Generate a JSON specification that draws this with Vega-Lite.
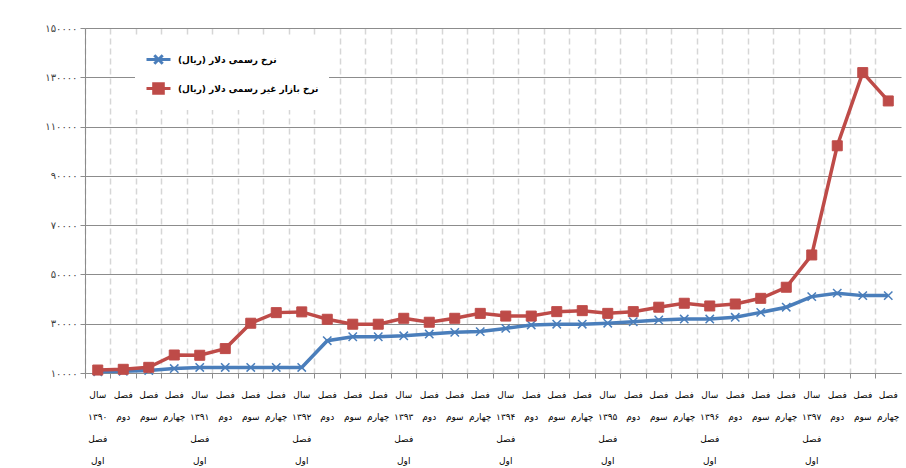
{
  "$schema": "https://vega.github.io/schema/vega-lite/v6.json",
  "width": 816,
  "height": 345,
  "autosize": {"type": "none"},
  "padding": {"left": 85, "top": 28, "right": 5, "bottom": 95},
  "background": "white",
  "config": {"view": {"stroke": null}, "font": "DejaVu Sans"},
  "datasets": {
    "rates": [
      {"period": "1390-1", "series": "official", "value": 10500},
      {"period": "1390-2", "series": "official", "value": 10700},
      {"period": "1390-3", "series": "official", "value": 11000},
      {"period": "1390-4", "series": "official", "value": 11800},
      {"period": "1391-1", "series": "official", "value": 12260},
      {"period": "1391-2", "series": "official", "value": 12260},
      {"period": "1391-3", "series": "official", "value": 12260},
      {"period": "1391-4", "series": "official", "value": 12260},
      {"period": "1392-1", "series": "official", "value": 12260},
      {"period": "1392-2", "series": "official", "value": 23100},
      {"period": "1392-3", "series": "official", "value": 24700},
      {"period": "1392-4", "series": "official", "value": 24700},
      {"period": "1393-1", "series": "official", "value": 25100},
      {"period": "1393-2", "series": "official", "value": 25800},
      {"period": "1393-3", "series": "official", "value": 26500},
      {"period": "1393-4", "series": "official", "value": 26800},
      {"period": "1394-1", "series": "official", "value": 28100},
      {"period": "1394-2", "series": "official", "value": 29500},
      {"period": "1394-3", "series": "official", "value": 29800},
      {"period": "1394-4", "series": "official", "value": 29800},
      {"period": "1395-1", "series": "official", "value": 30200},
      {"period": "1395-2", "series": "official", "value": 30800},
      {"period": "1395-3", "series": "official", "value": 31500},
      {"period": "1395-4", "series": "official", "value": 31900},
      {"period": "1396-1", "series": "official", "value": 31900},
      {"period": "1396-2", "series": "official", "value": 32600},
      {"period": "1396-3", "series": "official", "value": 34600},
      {"period": "1396-4", "series": "official", "value": 36700},
      {"period": "1397-1", "series": "official", "value": 41000},
      {"period": "1397-2", "series": "official", "value": 42400},
      {"period": "1397-3", "series": "official", "value": 41400},
      {"period": "1397-4", "series": "official", "value": 41400},
      {"period": "1390-1", "series": "market", "value": 11200},
      {"period": "1390-2", "series": "market", "value": 11500},
      {"period": "1390-3", "series": "market", "value": 12300},
      {"period": "1390-4", "series": "market", "value": 17300},
      {"period": "1391-1", "series": "market", "value": 17200},
      {"period": "1391-2", "series": "market", "value": 19900},
      {"period": "1391-3", "series": "market", "value": 30200},
      {"period": "1391-4", "series": "market", "value": 34500},
      {"period": "1392-1", "series": "market", "value": 34800},
      {"period": "1392-2", "series": "market", "value": 31800},
      {"period": "1392-3", "series": "market", "value": 29800},
      {"period": "1392-4", "series": "market", "value": 29800},
      {"period": "1393-1", "series": "market", "value": 32200},
      {"period": "1393-2", "series": "market", "value": 30600},
      {"period": "1393-3", "series": "market", "value": 32200},
      {"period": "1393-4", "series": "market", "value": 34200},
      {"period": "1394-1", "series": "market", "value": 33100},
      {"period": "1394-2", "series": "market", "value": 33100},
      {"period": "1394-3", "series": "market", "value": 34900},
      {"period": "1394-4", "series": "market", "value": 35300},
      {"period": "1395-1", "series": "market", "value": 34200},
      {"period": "1395-2", "series": "market", "value": 34900},
      {"period": "1395-3", "series": "market", "value": 36700},
      {"period": "1395-4", "series": "market", "value": 38300},
      {"period": "1396-1", "series": "market", "value": 37200},
      {"period": "1396-2", "series": "market", "value": 38000},
      {"period": "1396-3", "series": "market", "value": 40300},
      {"period": "1396-4", "series": "market", "value": 44800},
      {"period": "1397-1", "series": "market", "value": 57900},
      {"period": "1397-2", "series": "market", "value": 102200},
      {"period": "1397-3", "series": "market", "value": 131900},
      {"period": "1397-4", "series": "market", "value": 120400}
    ]
  },
  "data": {"name": "rates"},
  "encoding": {
    "x": {
      "field": "period",
      "type": "ordinal",
      "sort": null,
      "scale": {"type": "band", "paddingInner": 0, "paddingOuter": 0},
      "axis": {
        "title": null,
        "labelAngle": 0,
        "bandPosition": 0,
        "grid": true,
        "gridColor": "#d6d6d6",
        "gridDash": [6, 4],
        "gridWidth": 1.5,
        "domainColor": "#8c8c8c",
        "tickColor": "#8c8c8c",
        "tickSize": 5,
        "labelFont": "DejaVu Sans",
        "labelFontSize": 9,
        "labelColor": "black",
        "labelPadding": 12,
        "labelLineHeight": 22,
        "labelOverlap": false,
        "labelBound": false,
        "labelExpr": "substring(datum.value,5,6) == '1' ? ['سال', '۱۳۹' + ['۰','۱','۲','۳','۴','۵','۶','۷'][toNumber(substring(datum.value,3,4))], 'فصل', 'اول'] : ['فصل', ['','اول','دوم','سوم','چهارم'][toNumber(substring(datum.value,5,6))]]"
      }
    },
    "y": {
      "field": "value",
      "type": "quantitative",
      "scale": {"domain": [10000, 150000], "nice": false, "zero": false},
      "axis": {
        "title": null,
        "values": [10000, 30000, 50000, 70000, 90000, 110000, 130000, 150000],
        "grid": true,
        "gridColor": "#8c8c8c",
        "gridWidth": 1,
        "domainColor": "#8c8c8c",
        "tickColor": "#8c8c8c",
        "tickSize": 5,
        "labelFont": "DejaVu Sans",
        "labelFontSize": 10,
        "labelColor": "#404040",
        "labelPadding": 3,
        "labelExpr": "datum.value == 10000 ? '۱۰۰۰۰' : datum.value == 30000 ? '۳۰۰۰۰' : datum.value == 50000 ? '۵۰۰۰۰' : datum.value == 70000 ? '۷۰۰۰۰' : datum.value == 90000 ? '۹۰۰۰۰' : datum.value == 110000 ? '۱۱۰۰۰۰' : datum.value == 130000 ? '۱۳۰۰۰۰' : '۱۵۰۰۰۰'"
      }
    }
  },
  "layer": [
    {
      "mark": {"type": "line", "strokeWidth": 3.5},
      "encoding": {
        "color": {
          "field": "series",
          "type": "nominal",
          "scale": {"domain": ["official", "market"], "range": ["#4A7EBB", "#BE4B48"]},
          "legend": {
            "title": null,
            "orient": "none",
            "legendX": 50,
            "legendY": 8,
            "fillColor": "white",
            "padding": 10,
            "labelFont": "DejaVu Sans",
            "labelFontSize": 9,
            "labelFontWeight": "bold",
            "labelColor": "black",
            "labelLimit": 0,
            "labelOffset": 6,
            "symbolSize": 576,
            "symbolStrokeWidth": 3,
            "rowPadding": 5,
            "labelExpr": "datum.label == 'official' ? '\u200fنرخ رسمی دلار (ریال)\u200f' : '\u200fنرخ بازار غیر رسمی دلار (ریال)\u200f'",
            "encode": {
              "symbols": {
                "update": {
                  "shape": {"signal": "datum.value == 'official' ? 'M-1,0H1M-0.35,-0.35L0.35,0.35M-0.35,0.35L0.35,-0.35' : 'M-1,0H1M-0.4,-0.4H0.4V0.4H-0.4Z'"},
                  "fill": {"signal": "datum.value == 'official' ? 'transparent' : '#BE4B48'"},
                  "stroke": {"signal": "datum.value == 'official' ? '#4A7EBB' : '#BE4B48'"},
                  "strokeWidth": {"value": 3}
                }
              }
            }
          }
        }
      }
    },
    {
      "transform": [{"filter": "datum.series == 'official'"}],
      "mark": {"type": "point", "shape": "M-1,-1L1,1M-1,1L1,-1", "filled": false, "stroke": "#4A7EBB", "strokeWidth": 1.5, "size": 70, "opacity": 1}
    },
    {
      "transform": [{"filter": "datum.series == 'market'"}],
      "mark": {"type": "point", "shape": "square", "filled": true, "fill": "#BE4B48", "stroke": "#BE4B48", "strokeWidth": 1, "size": 100, "opacity": 1}
    }
  ]
}
